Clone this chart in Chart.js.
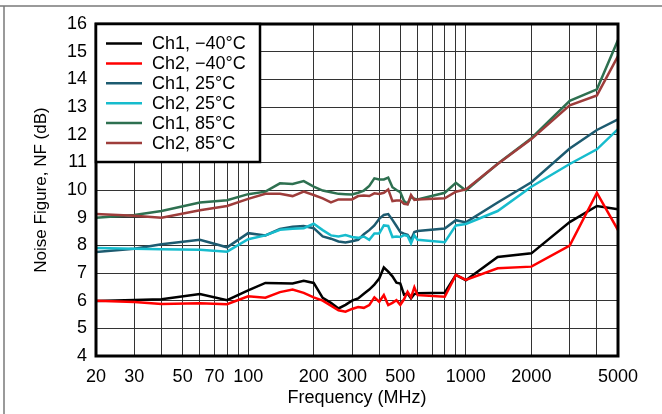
<!DOCTYPE html>
<html>
<head>
<meta charset="utf-8">
<script src="https://cdn.jsdelivr.net/npm/chart.js@4.4.1/dist/chart.umd.min.js"></script>
<style>
  html, body { margin: 0; padding: 0; background: #fff; }
  #wrap { width: 662px; height: 414px; }
</style>
</head>
<body>
<div id="wrap"><canvas id="nf-chart" width="662" height="414"></canvas></div>
<script>
'use strict';

// Measurement frequencies (MHz), shared by every trace
const freqMHz = [20, 30, 40, 60, 80,
  100, 120, 140, 160, 180, 200, 220, 240, 260, 280, 300, 320, 340, 360, 380,
  400, 420, 440, 460, 480, 500, 520, 540, 560, 580, 600,
  800, 900, 1000, 1400, 2000, 3000, 4000, 5000];

// Noise figure (dB) per channel / temperature
const nfCh1Minus40 = [5.99, 6.02, 6.05, 6.24, 6.02,
  6.37, 6.64, 6.63, 6.62, 6.72, 6.64, 6.10, 5.92, 5.72, 5.85, 6.00, 6.08, 6.25, 6.40, 6.58,
  6.80, 7.20, 7.05, 6.88, 6.65, 6.62, 6.22, 6.26, 6.08, 6.24, 6.27,
  6.29, 6.93, 6.74, 7.58, 7.71, 8.84, 9.42, 9.30];
const nfCh2Minus40 = [6.00, 5.95, 5.88, 5.91, 5.87,
  6.16, 6.11, 6.31, 6.40, 6.28, 6.12, 6.00, 5.82, 5.65, 5.60, 5.70, 5.77, 5.74, 5.84, 6.12,
  5.96, 6.20, 5.84, 5.92, 6.02, 5.85, 6.05, 6.32, 6.12, 6.48, 6.20,
  6.14, 6.93, 6.75, 7.17, 7.23, 7.99, 9.90, 8.55];
const nfCh1At25 = [7.76, 7.88, 8.04, 8.20, 7.93,
  8.44, 8.36, 8.59, 8.67, 8.70, 8.62, 8.32, 8.24, 8.14, 8.10, 8.15, 8.20, 8.40, 8.55, 8.72,
  8.96, 9.10, 9.13, 8.92, 8.70, 8.48, 8.42, 8.38, 8.20, 8.48, 8.52,
  8.61, 8.91, 8.83, 9.55, 10.28, 11.50, 12.17, 12.55];
const nfCh2At25 = [7.90, 7.88, 7.86, 7.84, 7.77,
  8.22, 8.36, 8.56, 8.60, 8.62, 8.78, 8.55, 8.36, 8.32, 8.37, 8.30, 8.27, 8.32, 8.20, 8.43,
  8.43, 8.72, 8.70, 8.30, 8.32, 8.30, 8.37, 8.34, 8.07, 8.36, 8.20,
  8.11, 8.72, 8.77, 9.24, 10.12, 10.94, 11.47, 12.20];
const nfCh1At85 = [9.00, 9.10, 9.24, 9.55, 9.63,
  9.85, 9.94, 10.24, 10.22, 10.32, 10.12, 9.98, 9.92, 9.86, 9.85, 9.84, 9.90, 9.98, 10.15, 10.42,
  10.38, 10.38, 10.45, 10.10, 10.00, 9.92, 9.60, 9.50, 9.75, 9.68, 9.66,
  9.90, 10.26, 9.98, 10.95, 11.87, 13.22, 13.64, 15.42];
const nfCh2At85 = [9.13, 9.07, 9.00, 9.27, 9.42,
  9.68, 9.86, 9.86, 9.78, 9.94, 9.82, 9.70, 9.55, 9.66, 9.66, 9.66, 9.78, 9.80, 9.78, 9.88,
  9.86, 9.90, 10.02, 9.60, 9.62, 9.62, 9.50, 9.48, 9.82, 9.64, 9.66,
  9.70, 9.94, 10.02, 10.94, 11.84, 13.06, 13.42, 14.84];

const seriesLabels = ['Ch1, \u221240\u00B0C', 'Ch2, \u221240\u00B0C', 'Ch1, 25\u00B0C', 'Ch2, 25\u00B0C', 'Ch1, 85\u00B0C', 'Ch2, 85\u00B0C'];
const seriesValues = [nfCh1Minus40, nfCh2Minus40, nfCh1At25, nfCh2At25, nfCh1At85, nfCh2At85];
const seriesColors = ['#000000', '#ff0000', '#1d5b70', '#17bccd', '#2e7050', '#9e3d3b'];

// Axis grid and label positions
const xGridMHz = [20, 30, 40, 50, 60, 70, 80, 90, 100, 200, 300, 400, 500, 600, 700, 800, 900, 1000, 2000, 3000, 4000, 5000];
const xLabelMHz = [20, 30, 50, 70, 100, 200, 300, 500, 1000, 2000, 5000];
const yMin = 4, yMax = 16;

const FONT = "'Liberation Sans', Arial, sans-serif";
Chart.defaults.font.family = FONT;
Chart.defaults.color = '#000';

// Outer panel lines, the heavy plot frame and the boxed legend
const panelDecor = {
  id: 'panelDecor',
  beforeDraw(chart) {
    const { ctx, width, height } = chart;
    ctx.save();
    ctx.fillStyle = '#fff';
    ctx.fillRect(0, 0, width, height);
    ctx.strokeStyle = '#7a7a7a';
    ctx.lineWidth = 1.5;
    ctx.beginPath();
    ctx.moveTo(0, 6); ctx.lineTo(width, 6);
    ctx.moveTo(4, 6); ctx.lineTo(4, height);
    ctx.stroke();
    ctx.restore();
  },
  afterDatasetsDraw(chart) {
    const { ctx, chartArea: a } = chart;
    ctx.save();
    ctx.strokeStyle = '#000';
    ctx.lineWidth = 3;
    ctx.strokeRect(a.left, a.top, a.right - a.left, a.bottom - a.top);

    // legend box
    const bx = a.left, by = a.top, bw = 164, bh = 138;
    ctx.fillStyle = '#fff';
    ctx.fillRect(bx, by, bw, bh);
    ctx.lineWidth = 2.5;
    ctx.strokeRect(bx, by, bw, bh);

    ctx.font = '18px ' + FONT;
    ctx.textBaseline = 'middle';
    ctx.textAlign = 'left';
    seriesLabels.forEach((label, i) => {
      const y = by + 19.5 + i * 19.9;
      ctx.strokeStyle = seriesColors[i];
      ctx.lineWidth = 2.5;
      ctx.beginPath();
      ctx.moveTo(bx + 10, y);
      ctx.lineTo(bx + 46, y);
      ctx.stroke();
      ctx.fillStyle = '#000';
      ctx.fillText(label, bx + 56, y + 1);
    });
    ctx.restore();
  },
};

const ctx = document.getElementById('nf-chart').getContext('2d');
new Chart(ctx, {
  type: 'line',
  data: {
    datasets: seriesLabels.map((label, i) => ({
      label,
      data: freqMHz.map((f, k) => ({ x: f, y: seriesValues[i][k] })),
      borderColor: seriesColors[i],
      backgroundColor: seriesColors[i],
      borderWidth: 2.5,
      pointRadius: 0,
      tension: 0,
      order: seriesLabels.length - i,
    })),
  },
  options: {
    responsive: false,
    animation: false,
    devicePixelRatio: 1,
    layout: { padding: { top: 24, right: 44, left: 0, bottom: 0 } },
    plugins: {
      legend: { display: false },
      tooltip: { enabled: false },
    },
    scales: {
      x: {
        type: 'logarithmic',
        min: 20,
        max: 5000,
        afterBuildTicks: s => { s.ticks = xGridMHz.map(v => ({ value: v })); },
        afterFit: s => { s.height = 58; },
        ticks: {
          autoSkip: false,
          maxRotation: 0,
          padding: 10,
          font: { size: 18 },
          callback: v => (xLabelMHz.includes(v) ? String(v) : ''),
        },
        grid: { color: '#333', lineWidth: 1, drawTicks: false },
        border: { display: false },
        title: {
          display: true,
          text: 'Frequency (MHz)',
          font: { size: 18 },
          padding: { top: 0, bottom: 5 },
        },
      },
      y: {
        min: yMin,
        max: yMax,
        afterFit: s => { s.width = 96; },
        ticks: { stepSize: 1, padding: 9, font: { size: 18 } },
        grid: { color: '#333', lineWidth: 1, drawTicks: false },
        border: { display: false },
        title: {
          display: true,
          text: 'Noise Figure, NF (dB)',
          font: { size: 17 },
          padding: { top: 31, bottom: 0 },
        },
      },
    },
  },
  plugins: [panelDecor],
});
</script>
</body>
</html>
